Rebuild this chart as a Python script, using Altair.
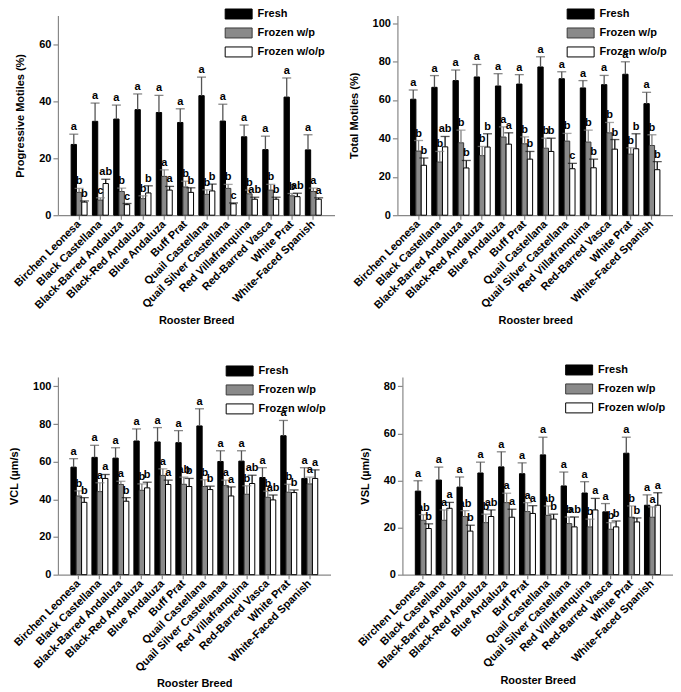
import altair as alt
import pandas as pd

breeds = ["Birchen Leonesa", "Black Castellana", "Black-Barred Andaluza", "Black-Red Andaluza",
          "Blue Andaluza", "Buff Prat", "Quail Castellana", "Quail Silver Castellana",
          "Red Villafranquina", "Red-Barred Vasca", "White Prat", "White-Faced Spanish"]
treatments = ["Fresh", "Frozen w/p", "Frozen w/o/p"]

# ---- Progressive motiles (%) ----
pm_fresh = [24.8, 32.9, 33.7, 37.0, 36.0, 32.5, 41.9, 33.0, 27.5, 23.0, 41.4, 22.9]
pm_fresh_err = [3.6, 6.4, 4.9, 5.5, 6.0, 4.8, 6.5, 5.9, 4.1, 4.7, 6.7, 5.3]
pm_wp = [8.0, 5.3, 8.3, 5.8, 13.6, 9.9, 7.3, 9.4, 7.5, 8.8, 6.8, 8.3]
pm_wp_err = [1.4, 0.8, 1.2, 1.0, 2.3, 2.0, 1.6, 1.4, 1.3, 2.0, 0.8, 1.2]
pm_wop = [4.6, 11.1, 3.7, 7.8, 8.8, 8.0, 8.5, 4.0, 5.6, 5.6, 6.5, 5.6]
pm_wop_err = [0.4, 1.5, 0.4, 2.5, 1.3, 1.6, 2.4, 0.3, 0.7, 0.7, 1.2, 0.5]
pm_let_fresh = ["a"] * 12
pm_let_wp = ["b", "c", "b", "b", "a", "b", "b", "b", "b", "b", "b", "a"]
pm_let_wop = ["b", "ab", "c", "b", "a", "b", "b", "c", "ab", "b", "ab", "a"]

# ---- Total motiles (%) ----
tm_fresh = [60.4, 66.6, 70.1, 72.0, 67.3, 68.3, 77.2, 71.1, 66.3, 68.0, 73.4, 58.1]
tm_fresh_err = [4.8, 6.1, 5.5, 6.5, 6.4, 4.9, 5.3, 3.6, 3.8, 4.8, 6.5, 5.9]
tm_wp = [33.4, 27.7, 37.7, 31.0, 40.7, 37.2, 34.9, 38.6, 38.1, 42.9, 31.8, 36.3]
tm_wp_err = [5.5, 5.5, 6.6, 4.8, 5.3, 3.6, 5.2, 4.0, 6.2, 5.4, 3.3, 5.6]
tm_wop = [26.0, 35.6, 24.6, 35.5, 37.0, 29.2, 33.2, 24.2, 24.7, 34.4, 34.6, 23.7]
tm_wop_err = [3.8, 5.4, 3.9, 6.9, 5.9, 4.0, 6.9, 2.8, 4.5, 5.0, 7.8, 4.2]
tm_let_fresh = ["a"] * 12
tm_let_wp = ["b", "b", "b", "b", "a", "b", "b", "b", "b", "b", "b", "b"]
tm_let_wop = ["b", "ab", "b", "b", "a", "b", "b", "c", "b", "b", "b", "b"]

# ---- VCL (um/s) ----
vcl_fresh = [57.1, 62.3, 61.9, 71.0, 70.5, 70.1, 79.0, 60.1, 60.3, 51.6, 73.8, 51.1]
vcl_fresh_err = [4.5, 6.4, 5.5, 6.4, 7.6, 6.4, 9.1, 5.7, 5.5, 5.2, 8.1, 5.7]
vcl_wp = [41.8, 44.1, 47.9, 44.8, 52.7, 48.0, 46.8, 47.3, 42.7, 41.1, 43.8, 48.2]
vcl_wp_err = [2.7, 4.7, 1.7, 3.4, 3.5, 3.8, 3.6, 2.9, 4.5, 3.2, 4.2, 3.6]
vcl_wop = [38.4, 51.1, 39.0, 46.1, 47.9, 46.8, 45.2, 41.8, 48.4, 39.7, 43.6, 51.1]
vcl_wop_err = [2.5, 2.1, 1.9, 3.0, 2.3, 4.3, 1.8, 4.8, 4.4, 2.6, 1.4, 4.6]
vcl_let_fresh = ["a"] * 12
vcl_let_wp = ["b", "a", "a", "b", "a", "ab", "b", "a", "b", "b", "b", "a"]
vcl_let_wop = ["b", "a", "b", "b", "a", "b", "b", "a", "ab", "ab", "b", "a"]

# ---- VSL (um/s) ----
vsl_fresh = [35.5, 40.2, 37.2, 43.2, 45.8, 42.9, 50.9, 37.7, 34.7, 26.7, 51.6, 29.5]
vsl_fresh_err = [4.4, 5.5, 4.3, 4.6, 6.4, 4.6, 7.5, 5.9, 4.8, 3.5, 6.8, 4.4]
vsl_wp = [23.1, 23.1, 24.7, 22.1, 30.6, 26.8, 25.2, 21.7, 20.3, 19.3, 24.4, 24.4]
vsl_wp_err = [2.4, 4.4, 2.5, 3.6, 4.0, 3.8, 4.0, 2.8, 3.3, 2.8, 4.8, 4.4]
vsl_wop = [19.6, 28.2, 18.5, 24.7, 24.4, 26.0, 23.6, 20.3, 27.5, 20.3, 22.4, 29.5]
vsl_wop_err = [2.0, 2.5, 2.5, 2.8, 3.4, 3.3, 2.1, 4.2, 4.9, 2.5, 1.7, 5.3]
vsl_let_fresh = ["a"] * 12
vsl_let_wp = ["ab", "a", "ab", "b", "a", "a", "ab", "b", "b", "b", "b", "a"]
vsl_let_wop = ["b", "a", "b", "ab", "a", "a", "b", "ab", "a", "b", "b", "a"]

FONT = "Liberation Sans"
fill_range = ["#000000", "#8a8a8a", "#ffffff"]
stroke_range = ["#000000", "#3a3a3a", "#000000"]
err_range = ["#555555", "#808080", "#111111"]


def panel(vals, errs, lets, ytitle, xtitle, ymax, ntick, width, height, lx, ly, label_expr=None):
    rows = []
    for ti, t in enumerate(treatments):
        for bi, b in enumerate(breeds):
            v = vals[ti][bi]
            e = errs[ti][bi]
            rows.append(dict(breed=b, treatment=t, value=v, top=v + e, letter=lets[ti][bi]))
    df = pd.DataFrame(rows)
    base = alt.Chart(df)

    xaxis_kw = dict(labelAngle=-45, labelAlign="right", labelBaseline="middle",
                    labelPadding=3, tickSize=4, labelOverlap=False, labelLimit=250,
                    titlePadding=4)
    if label_expr:
        xaxis_kw["labelExpr"] = label_expr
    x = alt.X("breed:N", sort=breeds, title=xtitle,
              scale=alt.Scale(paddingInner=0.25, paddingOuter=0.62),
              axis=alt.Axis(**xaxis_kw))
    xo = alt.XOffset("treatment:N", sort=treatments,
                     scale=alt.Scale(paddingInner=0, paddingOuter=0))
    y = alt.Y("value:Q", title=ytitle,
              scale=alt.Scale(domain=[0, ymax], nice=False, zero=True),
              axis=alt.Axis(tickCount=ntick, tickSize=5, labelPadding=2, titlePadding=13,
                            grid=False, labelOverlap=False, format="d"))

    bars = base.mark_bar(strokeWidth=1).encode(
        x=x, xOffset=xo, y=y,
        fill=alt.Fill("treatment:N", sort=treatments,
                      scale=alt.Scale(domain=treatments, range=fill_range),
                      legend=alt.Legend(
                          title=None, orient="none", legendX=lx, legendY=ly,
                          symbolType="M-2.7,-1H2.7V1H-2.7Z", symbolSize=100,
                          symbolStrokeColor="black", symbolStrokeWidth=1,
                          labelOffset=13.5, rowPadding=4, padding=0,
                          labelFont=FONT, labelFontSize=11, labelFontWeight="bold",
                          labelColor="black")),
        stroke=alt.Stroke("treatment:N", sort=treatments,
                          scale=alt.Scale(domain=treatments, range=stroke_range),
                          legend=None),
    )
    rules = base.mark_rule(strokeWidth=1.3).encode(
        x=alt.X("breed:N", sort=breeds), xOffset=xo,
        y=alt.Y("value:Q"), y2="top:Q",
        color=alt.Color("treatment:N", sort=treatments,
                        scale=alt.Scale(domain=treatments, range=err_range), legend=None),
    )
    caps = base.mark_tick(orient="horizontal", size=9, thickness=1.3).encode(
        x=alt.X("breed:N", sort=breeds), xOffset=xo,
        y=alt.Y("top:Q"),
        color=alt.Color("treatment:N", sort=treatments,
                        scale=alt.Scale(domain=treatments, range=err_range), legend=None),
    )
    letters = base.mark_text(font=FONT, fontSize=11, fontWeight="bold", baseline="bottom",
                             dy=-2, color="black").encode(
        x=alt.X("breed:N", sort=breeds), xOffset=xo,
        y=alt.Y("top:Q"), text="letter:N",
    )
    return alt.layer(bars, rules, caps, letters).properties(width=width, height=height)


p1 = panel([pm_fresh, pm_wp, pm_wop], [pm_fresh_err, pm_wp_err, pm_wop_err],
           [pm_let_fresh, pm_let_wp, pm_let_wop], "Progressive Motiles (%)", "Rooster Breed",
           70, 4, 277, 200, 175.5, -7)
p2 = panel([tm_fresh, tm_wp, tm_wop], [tm_fresh_err, tm_wp_err, tm_wop_err],
           [tm_let_fresh, tm_let_wp, tm_let_wop], "Total Motiles (%)", "Rooster breed",
           104, 6, 276, 200, 178, -7)
p3 = panel([vcl_fresh, vcl_wp, vcl_wop], [vcl_fresh_err, vcl_wp_err, vcl_wop_err],
           [vcl_let_fresh, vcl_let_wp, vcl_let_wop], "VCL (µm/s)", "Rooster Breed",
           105, 6, 273, 198, 176.5, -11.5,
           label_expr="datum.value == 'Quail Silver Castellana' ? 'Quail Silver Castellanaa' : datum.value")
p4 = panel([vsl_fresh, vsl_wp, vsl_wop], [vsl_fresh_err, vsl_wp_err, vsl_wop_err],
           [vsl_let_fresh, vsl_let_wp, vsl_let_wop], "VSL (µm/s)", "Rooster Breed",
           84, 5, 271, 198, 171.5, -12.5)

res = dict(fill="independent", stroke="independent", color="independent")
row1 = alt.hconcat(p1, p2, spacing=63, bounds="flush").resolve_scale(**res).resolve_legend(fill="independent")
row2 = alt.hconcat(p3, p4, spacing=72, bounds="flush").resolve_scale(**res).resolve_legend(fill="independent")
chart = alt.vconcat(row1, row2, spacing=362, bounds="flush").resolve_scale(**res).resolve_legend(
    fill="independent").properties(padding=0).configure_view(stroke=None).configure_axis(
    labelFont=FONT, titleFont=FONT, labelFontWeight="bold", titleFontWeight="bold",
    labelFontSize=11, titleFontSize=11, labelColor="black", titleColor="black",
    domainColor="#888888", tickColor="#888888", domainWidth=1.2, tickWidth=1.2)

chart.save("out.html", embed_options={"renderer": "svg", "actions": False})
